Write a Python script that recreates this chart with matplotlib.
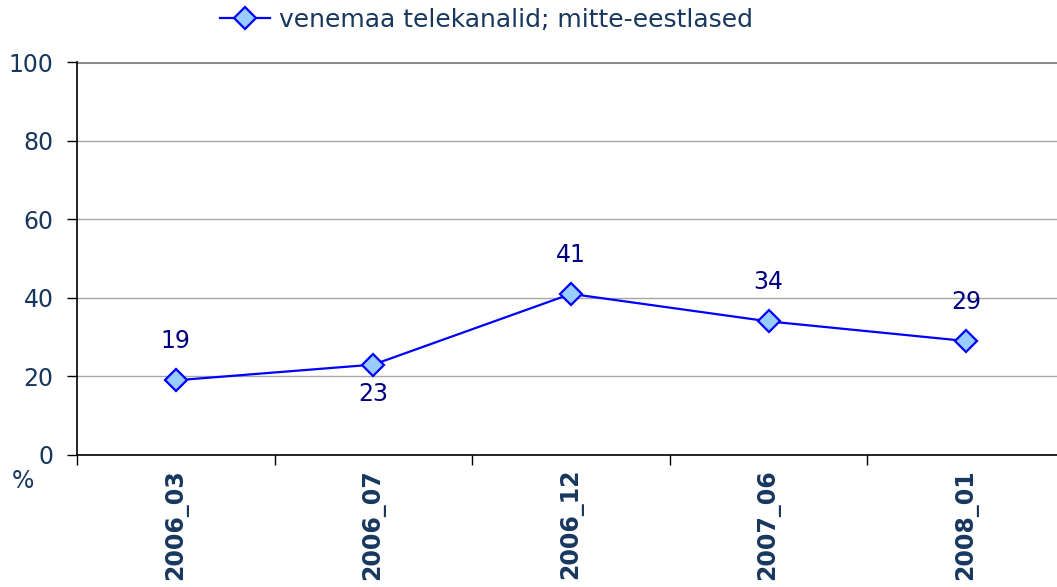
import matplotlib.pyplot as plt
from matplotlib.lines import Line2D

periods = ["2006_03", "2006_07", "2006_12", "2007_06", "2008_01"]
values = [19, 23, 41, 34, 29]
label_above = [True, False, True, True, True]
series_name = "venemaa telekanalid; mitte-eestlased"

navy = "#17375E"
label_col = "#000080"

plt.rcParams["font.family"] = ["DejaVu Sans"]

fig = plt.figure(figsize=(10.57, 5.87), dpi=100)
W, H = 1057, 587
ax = fig.add_axes([77 / W, 1 - 455 / H, (1065 - 77) / W, (455 - 62) / H])

x = list(range(len(periods)))
ax.plot(x, values, color="#0000FF", lw=1.6, marker="D", ms=11.5,
        mfc="#99CCFF", mec="#0000FF", mew=1.6, zorder=3, clip_on=False)

for xi, v, up in zip(x, values, label_above):
    dy = 28 if up else -21
    ax.annotate(str(v), (xi, v), xytext=(0, dy), textcoords="offset points",
                ha="center", va="center", fontsize=17, color=label_col)

ax.set_xlim(-0.5, len(periods) - 0.5)
ax.set_ylim(0, 100)
ax.set_yticks(range(0, 101, 20))
ax.grid(axis="y", color="#A6A6A6", lw=1)
ax.axhline(100, color="#8C8C8C", lw=2.2, zorder=2)
ax.set_axisbelow(True)

for s in ["top", "right"]:
    ax.spines[s].set_visible(False)
for s in ["left", "bottom"]:
    ax.spines[s].set_color("black")
    ax.spines[s].set_linewidth(1.2)

ax.tick_params(axis="y", direction="out", length=7, width=1, labelsize=17,
               labelcolor=navy, pad=10)
ax.set_xticks([i - 0.5 for i in range(len(periods) + 1)])
ax.set_xticklabels([])
ax.tick_params(axis="x", direction="out", length=7, width=1)
ax.set_xticks(x, minor=True)
ax.set_xticklabels(periods, minor=True, rotation=90, fontsize=17,
                   fontweight="bold", color=navy, va="top")
ax.tick_params(axis="x", which="minor", length=0, pad=10)

fig.text(23 / W, 1 - 481 / H, "%", fontsize=17, color=navy,
         ha="center", va="center")

handle = Line2D([], [], color="#0000FF", lw=1.6, marker="D", ms=11.5,
                mfc="#99CCFF", mec="#0000FF", mew=1.6)
fig.legend([handle], [series_name], loc="center left",
           bbox_to_anchor=(220 / W, 1 - 20 / H), frameon=False,
           fontsize=18, labelcolor=navy, handlelength=2.0,
           handletextpad=0.35, borderaxespad=0, borderpad=0)

fig.savefig("out.png", dpi=100)
